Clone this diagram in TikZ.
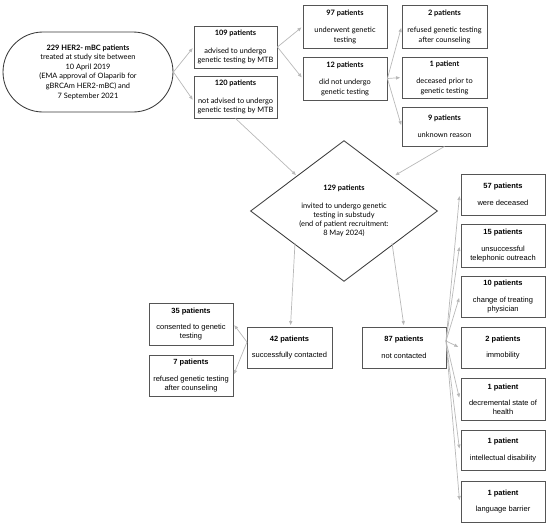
\documentclass[tikz,border=0pt]{standalone}
\usepackage{fontspec}
\setmainfont{Liberation Sans}
\newfontfamily\topfont{Lato}
\usetikzlibrary{shapes.misc,shapes.geometric,arrows.meta,calc}
\definecolor{bordercol}{HTML}{555555}
\definecolor{diacol}{HTML}{3A3A3A}
\definecolor{arrowgray}{HTML}{B8B8B8}
\tikzset{
  boxA/.style 2 args={draw=bordercol, line width=0.85pt, align=center, inner sep=0pt,
    minimum width=#1, minimum height=#2, font=\topfont\fontsize{7.4}{9.5}\selectfont},
  boxB/.style 2 args={draw=bordercol, line width=0.85pt, align=center, inner sep=0pt,
    minimum width=#1, minimum height=#2, font=\fontsize{7.5}{8.6}\selectfont},
  arr/.style={draw=arrowgray, line width=0.7pt, shorten >=1.5pt,
    -{Triangle[length=4pt,width=3.2pt]}}
}
\begin{document}
\begin{tikzpicture}[x=1pt,y=-1pt]
\useasboundingbox (0,0) rectangle (550,528);
% oval
\node[draw=diacol, line width=0.85pt, rounded rectangle, minimum width=170, minimum height=80,
  inner sep=0pt, align=center, font=\topfont\fontsize{7.4}{9.6}\selectfont] (oval) at (88,72)
  {\textbf{229 HER2- mBC patients}\\treated at study site between\\10 April 2019\\(EMA approval of Olaparib for\\gBRCAm HER2-mBC) and\\7 September 2021};
% top boxes
\node[boxA={83}{42}] (b109) at (235.5,47) {\textbf{109 patients}\\[8pt]advised to undergo\\genetic testing by MTB};
\node[boxA={83}{42}] (b120) at (235.5,97) {\textbf{120 patients}\\[8pt]not advised to undergo\\genetic testing by MTB};
\node[boxA={84}{43}] (b97) at (345,26.5) {\textbf{97 patients}\\[8pt]underwent genetic\\testing};
\node[boxA={84}{43}] (b12) at (345,78.5) {\textbf{12 patients}\\[8pt]did not undergo\\genetic testing};
\node[boxA={85}{43}] (b2) at (444.5,26.5) {\textbf{2 patients}\\[8pt]refused genetic testing\\after counseling};
\node[boxA={85}{41}] (b1) at (444.5,77.5) {\textbf{1 patient}\\[8pt]deceased prior to\\genetic testing};
\node[boxA={85}{39}] (b9) at (444.5,126.5) {\textbf{9 patients}\\[8pt]unknown reason};
% diamond
\node[draw=diacol, line width=0.85pt, diamond, minimum width=187, minimum height=130, inner sep=0pt,
  align=center, font=\topfont\fontsize{7.4}{9}\selectfont] (dia) at (344,211)
  {\textbf{129 patients}\\[9pt]invited to undergo genetic\\testing in substudy\\(end of patient recruitment:\\8 May 2024)};
% bottom boxes
\node[boxB={85}{41}] (b42) at (289.5,347.5) {\textbf{42 patients}\\[8pt]successfully contacted};
\node[boxB={84}{41}] (b87) at (404,347.5) {\textbf{87 patients}\\[8pt]not contacted};
\node[boxB={84}{42}] (b35) at (191,324) {\textbf{35 patients}\\[8pt]consented to genetic\\testing};
\node[boxB={84}{41}] (b7) at (191,375.5) {\textbf{7 patients}\\[8pt]refused genetic testing\\after counseling};
\node[boxB={84}{41}] (r57) at (503,194.5) {\textbf{57 patients}\\[8pt]were deceased};
\node[boxB={84}{43}] (r15) at (503,245.5) {\textbf{15 patients}\\[8pt]unsuccessful\\telephonic outreach};
\node[boxB={84}{41}] (r10) at (503,296.5) {\textbf{10 patients}\\[8pt]change of treating\\physician};
\node[boxB={84}{41}] (r2) at (503,347.5) {\textbf{2 patients}\\[8pt]immobility};
\node[boxB={84}{42}] (rdec) at (503,399) {\textbf{1 patient}\\[8pt]decremental state of\\health};
\node[boxB={84}{40}] (rint) at (503,450) {\textbf{1 patient}\\[8pt]intellectual disability};
\node[boxB={84}{41}] (rlang) at (503,501.5) {\textbf{1 patient}\\[8pt]language barrier};
% coordinates on diamond
\coordinate (d1) at (297,176);
\coordinate (d2) at (394,176);
\coordinate (d3) at (295,243);
\coordinate (d4) at (392,243);
\coordinate (f42) at (247,342);
\coordinate (f87) at (446,341);
% arrows
\draw[arr] (oval.east) -- (b109.west);
\draw[arr] (oval.east) -- ($(b120.west)+(0,4)$);
\draw[arr] (b109.east) -- (b97.west);
\draw[arr] (b109.east) -- (b12.west);
\draw[arr] (b12.east) -- (b2.west);
\draw[arr] (b12.east) -- (b1.west);
\draw[arr] (b12.east) -- (b9.west);
\draw[arr] (b120.south) -- (d1);
\draw[arr] (b9.south) -- (d2);
\draw[arr] (d3) -- ($(b42.north)+(1,0)$);
\draw[arr] (d4) -- (b87.north);
\draw[arr] (f42) -- (b35.east);
\draw[arr] (f42) -- (b7.east);
\foreach \t in {r57,r15,r10,r2,rdec,rint,rlang}{
  \draw[arr] (f87) -- ($(\t.west)+(-1,0)$);
}
\end{tikzpicture}
\end{document}
